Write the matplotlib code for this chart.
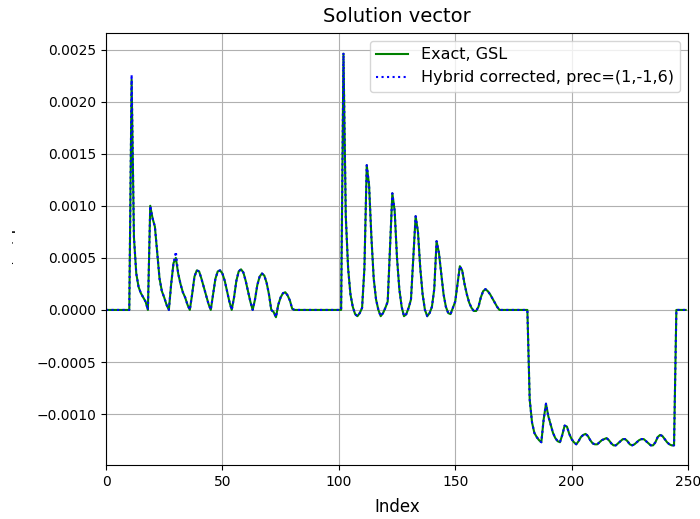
import numpy as np
import matplotlib
matplotlib.use("Agg")
import matplotlib.pyplot as plt
from matplotlib.transforms import Bbox, TransformedBbox

# solution components, units of 1e-5
seg_peaks_1 = [
    0, 0, 0, 0, 0, 0, 0, 0, 0, 0,            # 0-9
    0, 221, 70, 35, 22, 16, 12, 8, 0, 100,   # 10-19
    88, 80, 55, 30, 18, 12, 5, 0, 25, 45,    # 20-29
    50, 35, 25, 17, 12, 5, 0, 15, 32, 38,    # 30-39
    37, 30, 22, 14, 6, 0, 15, 30, 37, 38,    # 40-49
    35, 28, 18, 8, 0, 12, 28, 37, 39, 36,    # 50-59
    28, 18, 8, 0, 10, 24, 32, 35, 33, 26,    # 60-69
    15, 0, -2, -7, 5, 12, 16, 17, 14, 9,     # 70-79
    1, 0, 0, 0, 0, 0, 0, 0, 0, 0,            # 80-89
    0, 0, 0, 0, 0, 0, 0, 0, 0, 0,            # 90-99
]
seg_peaks_2 = [
    0, 0, 246, 90, 40, 15, 3, -4, -6, -3,    # 100-109
    2, 40, 139, 120, 70, 30, 10, 0, -6, -3,  # 110-119
    2, 8, 60, 112, 95, 50, 20, 3, -6, -4,    # 120-129
    2, 10, 50, 90, 75, 40, 15, 0, -6, -3,    # 130-139
    3, 20, 66, 55, 35, 15, 3, -3, -4, 2,     # 140-149
    8, 25, 42, 38, 25, 15, 7, 2, -1, -1,     # 150-159
    3, 12, 18, 20, 18, 15, 11, 7, 3, 0,      # 160-169
    0, 0, 0, 0, 0, 0, 0, 0, 0, 0,            # 170-179
]
seg_negative = [
    0, 0, -86, -108, -118, -122, -125, -127, -105, -90,         # 180-189
    -102, -110, -118, -123, -126, -127, -120, -111, -112, -119, # 190-199
    -124, -127, -129, -126, -122, -120, -119, -121, -125, -128, # 200-209
    -129, -129, -127, -125, -124, -123, -125, -128, -130, -130, # 210-219
    -128, -126, -124, -124, -126, -129, -130, -129, -127, -125, # 220-229
    -124, -124, -126, -128, -130, -130, -127, -122, -120, -121, # 230-239
    -124, -127, -129, -130, -130, 0, 0, 0, 0, 0,                # 240-249
]

exact = np.array(seg_peaks_1 + seg_peaks_2 + seg_negative) * 1e-5

# hybrid solution only visibly differs at a couple of peaks
hybrid_overrides = {11: 226e-5, 30: 56e-5, 102: 247e-5}
hybrid = exact.copy()
for i, v in hybrid_overrides.items():
    hybrid[i] = v

index = np.arange(len(exact))


def main():
    fig = plt.figure(figsize=(7.0, 5.19), dpi=100)
    ax = fig.add_axes([106 / 700, 1 - 465 / 519, 582 / 700, 432 / 519])

    ax.plot(index, exact, "g-", label="Exact, GSL")
    ax.plot(index, hybrid, "b:", label="Hybrid corrected, prec=(1,-1,6)")

    ax.set_xlim(0, 250)
    ax.set_title("Solution vector", fontsize=14, pad=8)
    ax.set_xlabel("Index", fontsize=12, labelpad=7)
    ax.set_ylabel("u, v, p", fontsize=12)
    ax.grid(True)
    ax.legend(loc="upper right", fontsize=11.5)

    # the reference only shows a sliver of the y label at the left edge
    ax.yaxis.set_label_coords((15.5 - 106) / 582, 0.5)
    clip = TransformedBbox(Bbox([[11.5 / 700, 0.0], [16.5 / 700, 1.0]]), fig.transFigure)
    ax.yaxis.label.set_clip_box(clip)
    ax.yaxis.label.set_clip_on(True)

    fig.savefig("out.png", dpi=100)
    plt.close(fig)


if __name__ == "__main__":
    main()
